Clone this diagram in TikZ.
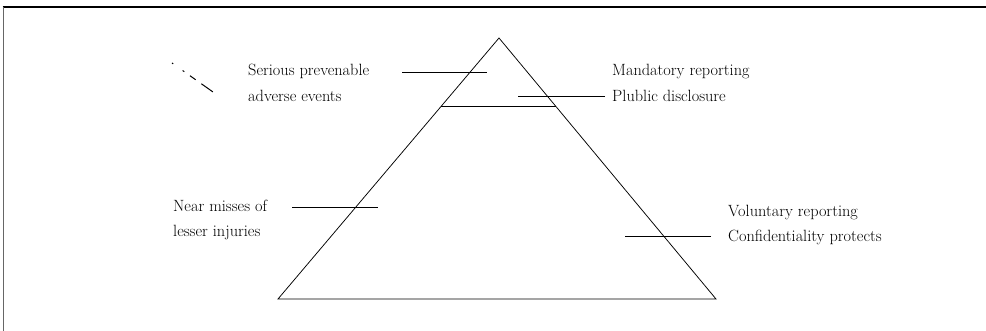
\documentclass[tikz,border=0pt]{standalone}
\usetikzlibrary{calc}
\begin{document}
\begin{tikzpicture}[x=1pt,y=-1pt,
  lbl/.style={anchor=base west, inner sep=0pt, font=\fontsize{16.3}{19}\selectfont},
  leader/.style={line width=0.9pt},
  edge/.style={line width=0.75pt}]
\useasboundingbox (0,0) rectangle (986,331);
% frame
\draw[line width=1.4pt] (2.5,7) -- (986,7);
\draw[line width=1pt, black!60] (3,331) -- (3,7);
% stray dashed mark
\draw[line width=1pt, dash pattern=on 1.5pt off 11.5pt on 2pt off 7pt on 7pt off 7pt on 14pt]
  (172,63) -- (213,92);
% pyramid
\coordinate (apex) at (499,38);
\coordinate (bl) at (278,299);
\coordinate (br) at (716,299);
\draw[edge, line join=miter] (apex) -- (bl) -- (br) -- cycle;
\coordinate (tl) at ($(apex)!0.2605!(bl)$);
\coordinate (tr) at ($(apex)!0.2605!(br)$);
\draw[line width=0.7pt] (tl) -- (tr);
% labels
\node[lbl] (ser1) at (248,76) {Serious prevenable};
\node[lbl] (ser2) at (248,102) {adverse events};
\node[lbl] (man1) at (612,76) {Mandatory reporting};
\node[lbl] (man2) at (612,102) {Plublic disclosure};
\node[lbl] (near1) at (173,212) {Near misses of};
\node[lbl] (near2) at (173,237) {lesser injuries};
\node[lbl] (vol1) at (728,217) {Voluntary reporting};
\node[lbl] (vol2) at (728,242) {Confidentiality protects};
% leader lines
\coordinate (sA) at (402,72);  \coordinate (sB) at (487,72);
\coordinate (pA) at (605,96);  \coordinate (pB) at (518,96);
\coordinate (nA) at (292,207); \coordinate (nB) at (378,207);
\coordinate (cA) at (711,236); \coordinate (cB) at (625,236);
\draw[leader] (sA) -- (sB);
\draw[leader] (pA) -- (pB);
\draw[leader] (nA) -- (nB);
\draw[leader] (cA) -- (cB);
\end{tikzpicture}
\end{document}
